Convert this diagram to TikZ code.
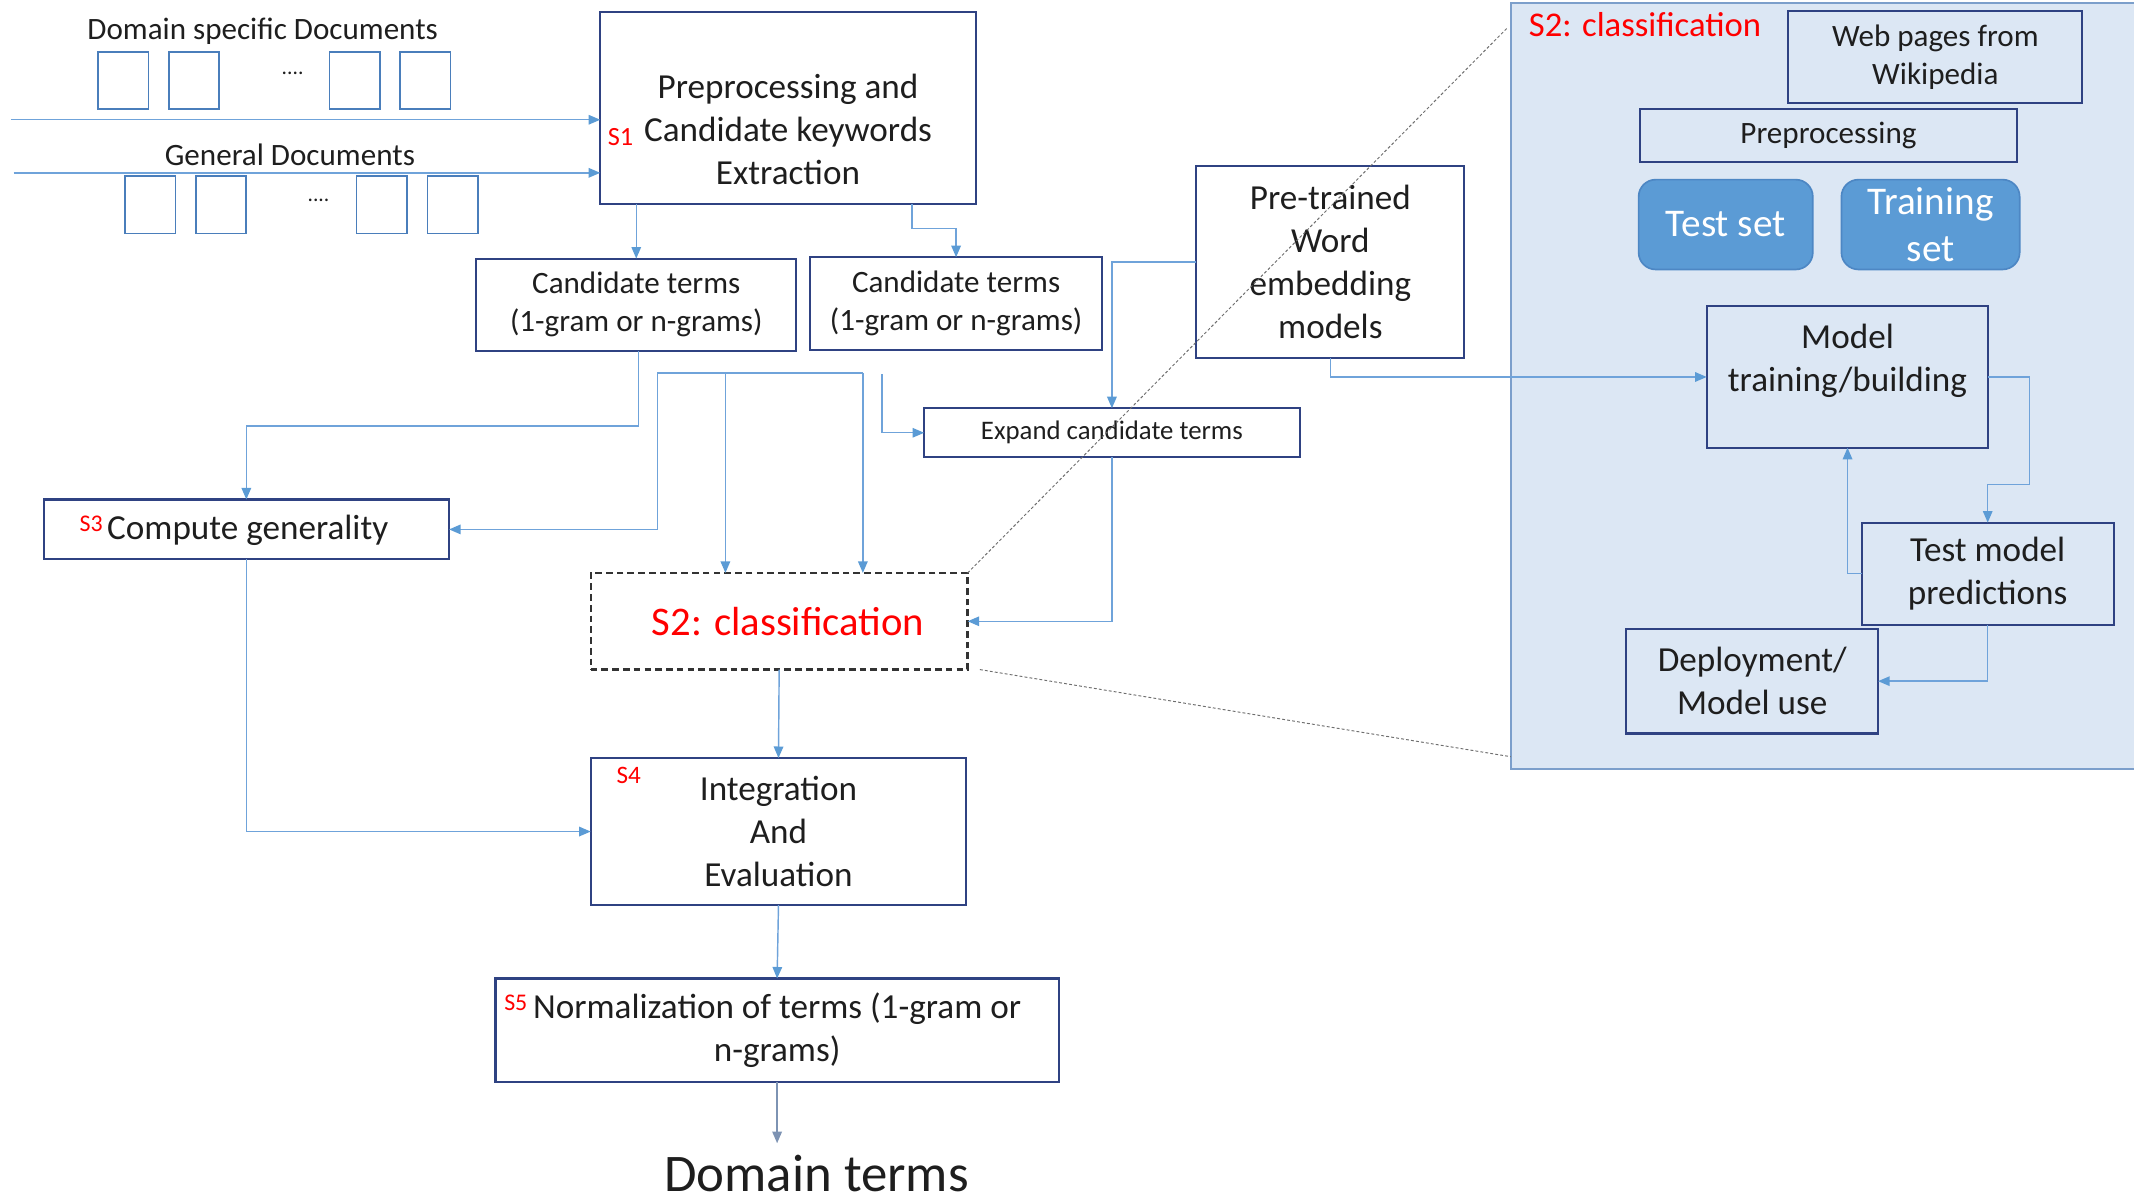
\documentclass[tikz,border=0pt]{standalone}
\usepackage{fontspec}
\setmainfont{Carlito}
\usetikzlibrary{arrows.meta,calc}

\definecolor{navy}{HTML}{2F4282}
\definecolor{conblue}{HTML}{6FA3DA}
\definecolor{tipblue}{HTML}{5B9BD5}
\definecolor{docblue}{HTML}{4A7EBB}
\definecolor{panelfill}{HTML}{DCE7F4}
\definecolor{panelline}{HTML}{7C9FCB}
\definecolor{setfill}{HTML}{5B9BD5}
\definecolor{setline}{HTML}{4D87C4}
\definecolor{ink}{HTML}{1E1E1E}
\definecolor{zoomgray}{HTML}{6E6E6E}
\definecolor{outgray}{HTML}{7D93B3}

\newcommand\fmain{\fontsize{14.7}{18.1}\selectfont}
\newcommand\fsmall{\fontsize{13}{15.9}\selectfont}
\newcommand\fexp{\fontsize{11.2}{13.6}\selectfont}
\newcommand\fset{\fontsize{16.4}{19.8}\selectfont}
\newcommand\fstep{\fontsize{17}{20}\selectfont}
\newcommand\fresult{\fontsize{22.1}{26}\selectfont}
\newcommand\ftitle{\fontsize{14.5}{17}\selectfont}
\newcommand\ftag{\fontsize{10}{12}\selectfont}

\begin{document}
\begin{tikzpicture}[x=0.02cm,y=-0.02cm,
  box/.style={draw=navy,line width=0.9pt,inner sep=0pt,outer sep=0pt,align=center,text=ink},
  doc/.style={draw=docblue,line width=0.7pt,inner sep=0pt,outer sep=0pt,minimum width=0.74cm,minimum height=0.84cm},
  setbox/.style={draw=setline,fill=setfill,line width=0.7pt,rounded corners=0.25cm,inner sep=0pt,outer sep=0pt,align=center,text=white,font=\fset},
  conn/.style={draw=conblue,line width=0.6pt},
  arr/.style={conn,-{Triangle[length=1.7mm,width=1.4mm,color=tipblue]}},
  zoomline/.style={draw=zoomgray,line width=0.4pt,dash pattern=on 1.2pt off 0.9pt},
  tag/.style={text=red,inner sep=0pt},
  txt/.style={inner sep=0pt,align=center,text=ink}]

\useasboundingbox (0,0) rectangle (1568,884);

% ---------- detail panel of the classification step ----------
\fill[panelfill] (1110,2) rectangle (1572,565);
\draw[panelline,line width=1pt] (1572,2) -- (1110,2) -- (1110,565) -- (1572,565);
\node[tag,font=\ftitle,anchor=west] (ptitle) at (1123,18) {S2: classification};

% ---------- input documents ----------
\node[txt,font=\fsmall] (domlbl) at (193,23) {Domain specific Documents};
\node[doc] (d1) at (90.5,59) {};
\node[doc] (d2) at (142.5,59) {};
\node[doc] (d3) at (260.5,59) {};
\node[doc] (d4) at (312.5,59) {};
\node[txt,font=\fontsize{9}{10}\selectfont] (dots1) at (215,54) {....};
\node[txt,font=\fsmall] (genlbl) at (213,114) {General Documents};
\node[doc] (d5) at (110.5,150.5) {};
\node[doc] (d6) at (162.5,150.5) {};
\node[doc] (d7) at (280.5,150.5) {};
\node[doc] (d8) at (332.5,150.5) {};
\node[txt,font=\fontsize{9}{10}\selectfont] (dots2) at (234,147) {....};

% ---------- main pipeline ----------
\node[box,minimum width=5.52cm,minimum height=2.82cm] (s1) at (579,79.5) {};
\node[txt,font=\fmain] (s1txt) at (579,95) {Preprocessing and\\Candidate keywords\\Extraction};
\node[tag,font=\fontsize{11}{13}\selectfont] (t1) at (456,101) {S1};

\node[box,font=\fsmall,minimum width=4.70cm,minimum height=1.36cm] (c1) at (467.5,224) {Candidate terms\\(1-gram or n-grams)};
\node[box,font=\fsmall,minimum width=4.30cm,minimum height=1.36cm] (c2) at (702.5,223) {Candidate terms\\(1-gram or n-grams)};
\node[box,font=\fmain,minimum width=3.94cm,minimum height=2.82cm] (pre) at (977.5,192.5) {Pre-trained\\Word\\embedding\\models};
\node[box,font=\fexp,minimum width=5.52cm,minimum height=0.72cm] (exp) at (817,318) {Expand candidate terms};
\node[box,minimum width=5.96cm,minimum height=0.88cm] (gen) at (181,389) {};
\node[txt,font=\fmain] (gentxt) at (182,390) {Compute generality};
\node[tag,font=\ftag] (t3) at (67,385) {S3};
\node[draw=black!80,line width=1pt,dash pattern=on 2.8pt off 1.7pt,inner sep=0pt,outer sep=0pt,
      minimum width=5.54cm,minimum height=1.42cm] (s2) at (572.5,456.5) {};
\node[txt,text=red,font=\fstep] (s2txt) at (579,457) {S2: classification};
\node[box,font=\fmain,minimum width=5.52cm,minimum height=2.16cm] (integ) at (572,611) {Integration\\And\\Evaluation};
\node[tag,font=\fontsize{10.5}{12}\selectfont] (t4) at (462,570) {S4};
\node[box,font=\fmain,minimum width=8.28cm,minimum height=1.52cm] (norm) at (571,757) {Normalization of terms (1-gram or\\n-grams)};
\node[tag,font=\ftag] (t5) at (379,737) {S5};
\node[txt,font=\fresult] (result) at (600,862) {Domain terms};

% ---------- panel content ----------
\node[box,font=\fsmall,minimum width=4.32cm,minimum height=1.36cm] (web) at (1422,42) {Web pages from\\Wikipedia};
\node[box,font=\fsmall,minimum width=5.54cm,minimum height=0.78cm] (prep) at (1343.5,99.5) {Preprocessing};
\node[setbox,minimum width=2.56cm,minimum height=1.32cm] (test) at (1268,165) {Test set};
\node[setbox,minimum width=2.62cm,minimum height=1.32cm] (train) at (1418.5,165) {Training\\set};
\node[box,minimum width=4.14cm,minimum height=2.08cm] (model) at (1357.5,277) {};
\node[txt,font=\fmain] (modeltxt) at (1357.5,265) {Model\\training/building};
\node[box,font=\fmain,minimum width=3.70cm,minimum height=1.50cm] (testm) at (1460.5,421.5) {Test model\\predictions};
\node[box,font=\fmain,minimum width=3.70cm,minimum height=1.54cm] (deploy) at (1287.5,500.5) {Deployment/\\Model use};

% ---------- zoom guides ----------
\coordinate (zt) at (1108,20);
\coordinate (zb) at (1110,556);
\coordinate (zs) at (720,492);
\draw[zoomline] (s2.north east) -- (zt);
\draw[zoomline] (zs) -- (zb);

% ---------- connectors ----------
\coordinate (inA) at (8,88);
\coordinate (inB) at (10,127);
\draw[arr] (inA) -- (s1.west |- inA);
\draw[arr] (inB) -- (s1.west |- inB);

\draw[arr] (s1.south -| c1.north) -- (c1.north);
\coordinate (kb) at (670,168);
\draw[arr] (s1.south -| kb) |- (kb -| c2.north) -- (c2.north);

\coordinate (kc) at (469,313);
\draw[arr] (c1.south -| kc) |- (kc -| gen.north) -- (gen.north);

\coordinate (bus1) at (483,274);
\coordinate (bus3) at (533,274);
\coordinate (bus2) at (634,274);
\draw[conn] (bus1) -- (bus2);
\draw[arr] (bus1) |- (gen.east);
\draw[arr] (bus3) -- (s2.north -| bus3);
\draw[arr] (bus2) -- (s2.north -| bus2);

\coordinate (ke) at (648,275);
\draw[arr] (ke) |- (exp.west);

\draw[arr] (pre.west) -| (exp.north);
\draw[arr] (exp.south) |- (s2.east);
\draw[arr] (pre.south) |- (model.west);

\coordinate (ki) at (1491,356);
\draw[arr] (model.east) -| (ki) -| (testm.north);
\draw[arr] (testm.west) -| (model.south);
\draw[arr] (testm.south) |- (deploy.east);

\draw[arr] (gen.south) |- (integ.west);
\draw[arr] (s2.south) -- (integ.north);
\draw[arr] (integ.south) -- (norm.north);
\coordinate (out) at (571,840);
\draw[draw=outgray,line width=0.6pt,-{Triangle[length=1.7mm,width=1.4mm,color=outgray]}] (norm.south) -- (out);

\end{tikzpicture}
\end{document}
